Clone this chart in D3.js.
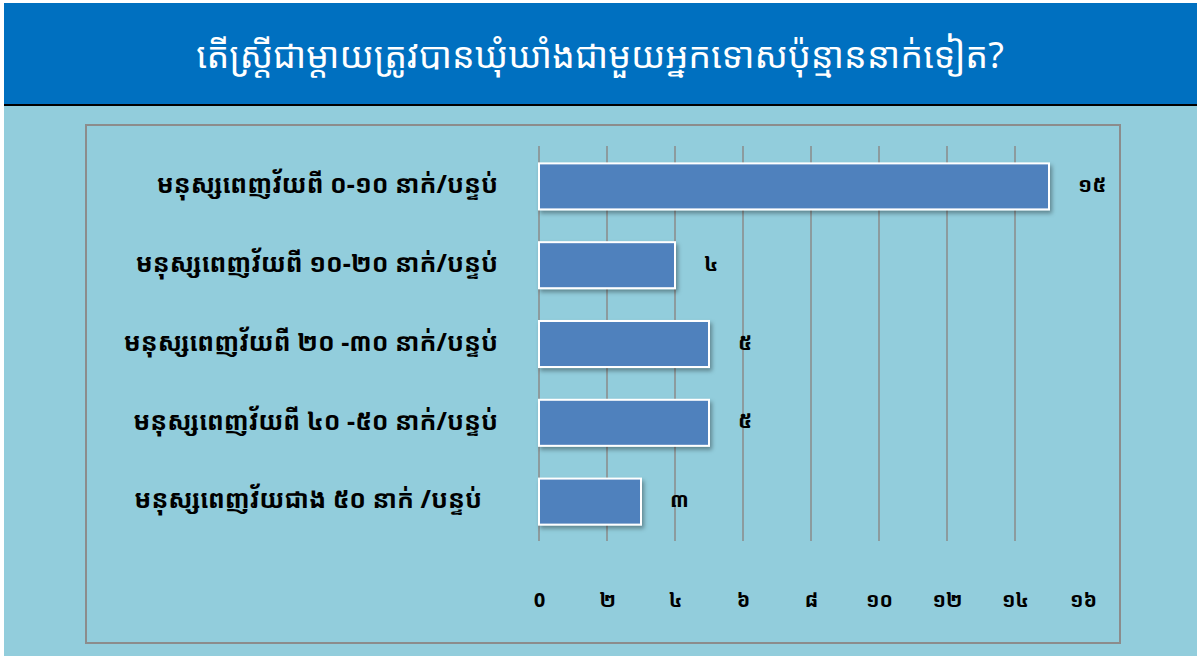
<!DOCTYPE html>
<html>
<head>
<meta charset="utf-8">
<script src="https://cdn.jsdelivr.net/npm/d3@7"></script>
<style>
  body { margin: 0; background: #ffffff; }
  svg { display: block; }
  text { font-family: "Khmer OS Battambang", "Khmer OS", "Noto Sans Khmer", "Noto Serif Khmer", "Noto Sans", "DejaVu Sans", sans-serif; }
</style>
</head>
<body>
<svg id="chart" width="1197" height="656"></svg>
<script>
const title = "តើស្ត្រីជាម្តាយត្រូវបានឃុំឃាំងជាមួយអ្នកទោសប៉ុន្មាននាក់ទៀត?";
const categories = [
  "មនុស្សពេញវ័យពី ០-១០ នាក់/បន្ទប់",
  "មនុស្សពេញវ័យពី ១០-២០ នាក់/បន្ទប់",
  "មនុស្សពេញវ័យពី ២០ -៣០ នាក់/បន្ទប់",
  "មនុស្សពេញវ័យពី ៤០ -៥០ នាក់/បន្ទប់",
  "មនុស្សពេញវ័យជាង ៥០ នាក់ /បន្ទប់"
];
const values = [15, 4, 5, 5, 3];
const valueLabels = ["១៥", "៤", "៥", "៥", "៣"];
const tickValues = [0, 2, 4, 6, 8, 10, 12, 14, 16];
const tickLabels = ["0", "២", "៤", "៦", "៨", "១០", "១២", "១៤", "១៦"];
const gridValues = [0, 2, 4, 6, 8, 10, 12, 14];

const svg = d3.select("#chart");

// background
svg.append("rect").attr("x", 4).attr("y", 3).attr("width", 1193).attr("height", 653).attr("fill", "#92CDDC");
// header
svg.append("rect").attr("x", 4).attr("y", 3).attr("width", 1193).attr("height", 101).attr("fill", "#0070C0");
svg.append("line").attr("x1", 4).attr("x2", 1197).attr("y1", 105).attr("y2", 105).attr("stroke", "#000").attr("stroke-width", 2);
svg.append("text").attr("x", 600).attr("y", 58).attr("text-anchor", "middle").attr("dominant-baseline", "middle")
  .attr("fill", "#ffffff").attr("font-size", 36).text(title);

// frame
svg.append("rect").attr("x", 86).attr("y", 125).attr("width", 1034).attr("height", 518)
  .attr("fill", "none").attr("stroke", "#8c8c8c").attr("stroke-width", 2);

const x = d3.scaleLinear().domain([0, 16]).range([539, 1083]);
const y = d3.scaleBand().domain(categories).range([147, 541]).paddingInner(0.416).paddingOuter(0.208);

// gridlines
svg.append("g").selectAll("line").data(gridValues).join("line")
  .attr("x1", d => x(d)).attr("x2", d => x(d))
  .attr("y1", 146).attr("y2", 541)
  .attr("stroke", "#8a8a8a").attr("stroke-width", 1.5);

// shadow filter
const defs = svg.append("defs");
const f = defs.append("filter").attr("id", "shadow").attr("x", "-10%").attr("y", "-20%").attr("width", "130%").attr("height", "160%");
f.append("feDropShadow").attr("dx", 2).attr("dy", 3).attr("stdDeviation", 2).attr("flood-color", "#000").attr("flood-opacity", 0.35);

// bars
svg.append("g").selectAll("rect").data(values).join("rect")
  .attr("x", x(0))
  .attr("y", (d, i) => y(categories[i]))
  .attr("width", d => x(d) - x(0))
  .attr("height", y.bandwidth())
  .attr("fill", "#4F81BD")
  .attr("stroke", "#ffffff").attr("stroke-width", 2)
  .attr("filter", "url(#shadow)");

// value labels
svg.append("g").selectAll("text").data(values).join("text")
  .attr("x", d => x(d) + 29)
  .attr("y", (d, i) => y(categories[i]) + y.bandwidth() / 2)
  .attr("dominant-baseline", "middle")
  .attr("font-size", 21).attr("font-weight", "bold").attr("fill", "#000")
  .text((d, i) => valueLabels[i]);

// category labels
svg.append("g").selectAll("text").data(categories).join("text")
  .attr("x", (d, i) => i === 4 ? 482 : 498)
  .attr("y", d => y(d) + y.bandwidth() / 2)
  .attr("text-anchor", "end").attr("dominant-baseline", "middle")
  .attr("font-size", 25).attr("font-weight", "bold").attr("fill", "#000")
  .text(d => d);

// x axis tick labels
const axis = d3.axisBottom(x).tickValues(tickValues).tickSize(0).tickFormat((d, i) => tickLabels[i]);
const ag = svg.append("g").attr("transform", "translate(0,590)").call(axis);
ag.select(".domain").remove();
ag.selectAll("text").attr("font-size", 20).attr("font-weight", "bold").attr("fill", "#000")
  .style("font-family", "\"Khmer OS Battambang\", \"Khmer OS\", \"Noto Sans Khmer\", \"Noto Serif Khmer\", \"Noto Sans\", sans-serif");
</script>
</body>
</html>
